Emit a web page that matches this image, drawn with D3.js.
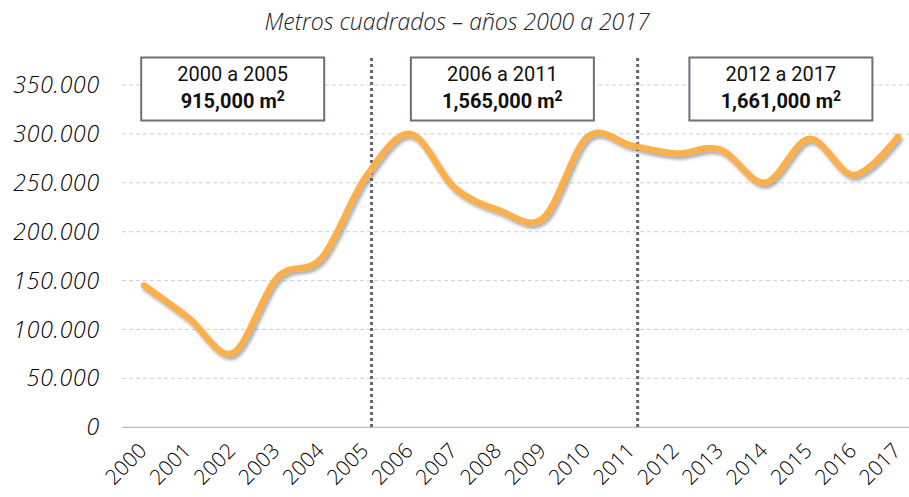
<!DOCTYPE html>
<html>
<head>
<meta charset="utf-8">
<script src="https://cdn.jsdelivr.net/npm/d3@7"></script>
<style>
  body { margin: 0; background: #fff; }
  svg { display: block; }
</style>
</head>
<body>
<div id="chart"></div>
<script>
// data
const years = [2000, 2001, 2002, 2003, 2004, 2005, 2006, 2007, 2008,
               2009, 2010, 2011, 2012, 2013, 2014, 2015, 2016, 2017];
const metros = [145000, 112000, 76000, 153000, 173000, 256000, 300000, 245000, 222000,
                214000, 297000, 288000, 280000, 284000, 250000, 295000, 258000, 297000];
const yTicks = [0, 50000, 100000, 150000, 200000, 250000, 300000, 350000];
const periodLabels = ['2000 a 2005', '2006 a 2011', '2012 a 2017'];
const periodTotals = ['915,000', '1,565,000', '1,661,000'];
const separatorYears = [2005, 2011];

const W = 909, H = 497;
const margin = {top: 85, left: 122, bottom: 70};

const svg = d3.select('#chart').append('svg')
    .attr('width', W)
    .attr('height', H);

// shadow under the line
const defs = svg.append('defs');
defs.append('filter')
    .attr('id', 'shadow')
    .attr('x', '-10%').attr('y', '-10%')
    .attr('width', '120%').attr('height', '130%')
    .append('feDropShadow')
    .attr('dx', 2).attr('dy', 3)
    .attr('stdDeviation', 1.5)
    .attr('flood-color', '#555')
    .attr('flood-opacity', 0.45);

// scales
const x = d3.scalePoint()
    .domain(years)
    .range([144, 898]);
const step = x.step();

const y = d3.scaleLinear()
    .domain([0, 350000])
    .range([427.3, margin.top]);

// title
svg.append('text')
    .attr('x', 457)
    .attr('y', 30)
    .attr('text-anchor', 'middle')
    .style('font-family', '"Open Sans", sans-serif')
    .style('font-style', 'italic')
    .style('font-weight', 300)
    .style('font-size', '23px')
    .style('fill', '#222')
    .text('Metros cuadrados – años 2000 a 2017');

// grid
svg.append('g')
    .selectAll('line')
    .data(yTicks.filter(d => d > 0))
    .join('line')
    .attr('x1', margin.left)
    .attr('x2', W)
    .attr('y1', d => y(d))
    .attr('y2', d => y(d))
    .attr('stroke', '#cfcfcf')
    .attr('stroke-width', 1)
    .attr('stroke-dasharray', '4,3');

// baseline
svg.append('line')
    .attr('x1', margin.left)
    .attr('x2', W)
    .attr('y1', y(0))
    .attr('y2', y(0))
    .attr('stroke', '#bdbdbd')
    .attr('stroke-width', 1.3);

// y axis labels
const fmt = d => d === 0 ? '0' : d3.format(',')(d).replace(/,/g, '.');
svg.append('g')
    .selectAll('text')
    .data(yTicks)
    .join('text')
    .attr('x', 100)
    .attr('y', d => y(d) + 8)
    .attr('text-anchor', 'end')
    .style('font-family', '"Open Sans", sans-serif')
    .style('font-style', 'italic')
    .style('font-weight', 300)
    .style('font-size', '23px')
    .style('letter-spacing', '0.8px')
    .style('fill', '#000')
    .text(fmt);

// x axis labels
svg.append('g')
    .selectAll('text')
    .data(years)
    .join('text')
    .attr('transform', d => `translate(${x(d) + 4},${452}) rotate(-45)`)
    .attr('text-anchor', 'end')
    .style('font-family', '"Open Sans", sans-serif')
    .style('font-weight', 300)
    .style('font-size', '21px')
    .style('fill', '#000')
    .text(d => d);

// separators
svg.append('g')
    .selectAll('line')
    .data(separatorYears)
    .join('line')
    .attr('x1', d => x(d) + step * 0.13)
    .attr('x2', d => x(d) + step * 0.13)
    .attr('y1', 58)
    .attr('y2', y(0))
    .attr('stroke', '#6b6470')
    .attr('stroke-width', 3)
    .attr('stroke-dasharray', '3,3');

// period boxes
const boxCenters = [2002, 2008.08, 2014.36];
const xLin = d3.scaleLinear().domain([2000, 2017]).range(x.range());
const boxW = 183, boxTop = 57.5, boxH = 63;

const boxes = svg.append('g')
    .selectAll('g')
    .data(periodLabels.map((label, i) => ({label, total: periodTotals[i], cx: xLin(boxCenters[i])})))
    .join('g');

boxes.append('rect')
    .attr('x', d => d.cx - boxW / 2)
    .attr('y', boxTop)
    .attr('width', boxW)
    .attr('height', boxH)
    .attr('fill', '#fff')
    .attr('stroke', '#746c78')
    .attr('stroke-width', 2);

boxes.append('text')
    .attr('x', d => d.cx)
    .attr('y', 81)
    .attr('text-anchor', 'middle')
    .style('font-family', 'Roboto, sans-serif')
    .style('font-size', '20px')
    .style('fill', '#111')
    .text(d => d.label);

const tot = boxes.append('text')
    .attr('x', d => d.cx)
    .attr('y', 107.5)
    .attr('text-anchor', 'middle')
    .style('font-family', 'Roboto, sans-serif')
    .style('font-size', '20px')
    .style('font-weight', 'bold')
    .style('fill', '#111');
tot.append('tspan').text(d => d.total + ' m');
tot.append('tspan')
    .attr('dy', -7)
    .style('font-size', '14px')
    .text('2');

// line
const line = d3.line()
    .x((d, i) => x(years[i]))
    .y(d => y(d))
    .curve(d3.curveCardinal.tension(0));

svg.append('path')
    .datum(metros)
    .attr('d', line)
    .attr('fill', 'none')
    .attr('stroke', '#FBB04C')
    .attr('stroke-width', 6.5)
    .attr('stroke-linecap', 'round')
    .attr('filter', 'url(#shadow)');
</script>
</body>
</html>
